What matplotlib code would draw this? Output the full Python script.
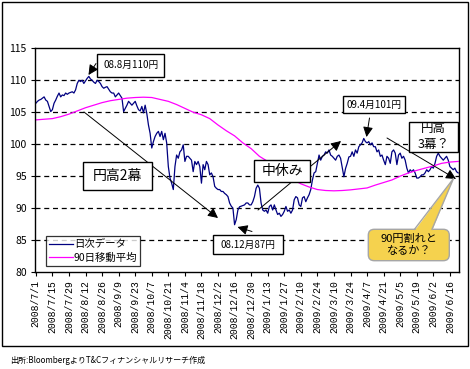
import matplotlib
matplotlib.use('Agg')
import matplotlib.pyplot as plt
from matplotlib.patches import Rectangle, FancyBboxPatch, Polygon, FancyArrowPatch
from matplotlib.transforms import Affine2D
import numpy as np
import pandas as pd

plt.rcParams['font.family'] = ['Noto Sans CJK JP', 'DejaVu Sans']

# USD/JPY daily close (business days from 2008/7/1)
daily = [
    106.4, 106.7, 106.9, 107.0, 107.2, 107.4, 106.9, 106.7, 105.9, 105.1,
    105.4, 106.4, 106.9, 107.5, 108.0, 107.4, 107.7, 107.6, 108.0, 107.8,
    108.0, 108.1, 108.2, 108.0, 108.5, 109.5, 110.0, 109.8, 110.0, 109.5,
    109.9, 110.3, 110.6, 110.2, 110.0, 109.7, 109.5, 110.0, 109.8, 109.5,
    109.0, 108.75, 108.9, 109.0, 108.6, 108.2, 108.0, 108.0, 107.4, 107.7,
    108.0, 107.6, 107.2, 105.1, 105.6, 106.1, 106.7, 106.4, 106.1, 106.4,
    106.7, 106.0, 105.4, 105.2, 105.9, 104.9, 106.1, 104.8, 103.0, 101.7,
    99.4, 100.4, 101.2, 101.7, 102.0, 101.2, 102.0, 100.7, 101.7, 100.2,
    96.5, 94.7, 93.9, 92.9, 96.5, 98.3, 97.8, 98.8, 99.1, 99.9,
    97.3, 98.1, 98.1, 97.8, 97.5, 95.7, 97.3, 96.8, 97.3, 96.5,
    93.9, 96.8, 96.0, 97.3, 96.8, 95.2, 95.5, 94.9, 93.4, 93.1,
    92.9, 92.9, 92.6, 92.6, 92.3, 92.1, 91.8, 90.8, 90.3, 90.0,
    87.4, 88.2, 89.7, 90.2, 90.3, 90.4, 90.5, 90.8, 90.8, 90.5,
    90.5, 91.0, 91.8, 93.1, 93.6, 93.1, 90.8, 89.7, 89.5, 89.7,
    89.2, 90.25, 90.5, 89.7, 90.5, 89.7, 89.0, 89.2, 88.7, 89.0,
    89.5, 90.25, 89.5, 89.7, 89.2, 89.7, 91.3, 91.8, 91.6, 90.5,
    90.25, 91.6, 91.8, 91.0, 91.6, 92.1, 92.9, 94.4, 95.5, 95.7,
    97.0, 98.3, 97.5, 98.1, 98.3, 98.8, 98.6, 99.1, 98.3, 98.1,
    97.8, 97.5, 98.1, 98.3, 97.8, 96.3, 94.9, 96.2, 97.0, 98.0,
    98.1, 98.8, 98.1, 99.1, 98.6, 99.6, 99.9, 100.2, 100.9, 100.4,
    100.2, 100.4, 99.9, 100.2, 99.6, 99.6, 98.8, 99.1, 98.1, 98.3,
    97.5, 96.8, 98.1, 97.8, 97.0, 98.8, 99.1, 98.6, 96.8, 98.3,
    98.6, 97.8, 98.1, 97.5, 96.25, 95.5, 96.0, 95.7, 96.0, 95.5,
    94.7, 94.7, 94.9, 95.2, 95.2, 95.5, 96.0, 95.7, 96.0, 96.5,
    96.25, 97.0, 98.1, 98.6, 98.1, 97.8, 97.5, 97.8, 98.1, 97.5,
    96.5, 96.25, 96.0, 96.25, 95.7, 95.5,
]

# 90-day moving average, read every 5th business day
ma90 = [
    103.8, 103.9, 104.0, 104.3, 104.7, 105.2, 105.7, 106.1, 106.5, 106.8,
    107.0, 107.2, 107.3, 107.35, 107.3, 107.0, 106.7, 106.2, 105.6, 105.0,
    104.6, 104.0, 103.0, 102.1, 101.3, 100.2, 99.3, 98.1, 97.3, 96.6,
    95.7, 94.5, 93.8, 93.3, 92.9, 92.75, 92.7, 92.75, 92.85, 93.0,
    93.15, 93.6, 94.0, 94.4, 95.0, 95.5, 95.9, 96.25, 96.6, 97.0,
    97.2, 97.3,
]
ma_step = 5
label_step = 10

dates = pd.bdate_range('2008-07-01', periods=len(daily))
tick_labels = [f'{d.year}/{d.month}/{d.day}' for d in dates[::label_step]]
y_ticks = [80, 85, 90, 95, 100, 105, 110, 115]

W, H = 470, 369


def add_box(fig, px, x0, y0, x1, y1, text, size):
    fig.add_artist(Rectangle((x0, y0), x1 - x0, y1 - y0, transform=px,
                             facecolor='white', edgecolor='black', lw=1, zorder=1))
    fig.text((x0 + x1) / 2, (y0 + y1) / 2, text, transform=px, fontsize=size,
             ha='center', va='center', linespacing=1.3, zorder=3)


def add_arrow(fig, px, a, b):
    fig.add_artist(FancyArrowPatch(a, b, transform=px, arrowstyle='-|>,head_length=0.6,head_width=0.3',
                                   mutation_scale=10, lw=0.7, color='black',
                                   shrinkA=0, shrinkB=0, zorder=0.5))


def main():
    fig = plt.figure(figsize=(W / 100, H / 100), dpi=100)
    px = Affine2D().scale(1 / W, -1 / H).translate(0, 1) + fig.transFigure

    ax = fig.add_axes([35 / W, 1 - 272 / H, 424 / W, (272 - 48.3) / H])
    x = np.arange(len(daily))
    ax.plot(x, daily, color='#000080', lw=0.9, label='日次データ')
    ax.plot(x[::ma_step], ma90, color='#FF00FF', lw=0.9, label='90日移動平均')

    ax.set_xlim(-0.5, len(daily) - 0.5)
    ax.set_ylim(80, 115)
    ax.set_yticks(y_ticks)
    ax.set_xticks(x[::label_step])
    ax.set_xticklabels(tick_labels, rotation=90, fontsize=7, family='Liberation Mono')
    ax.tick_params(axis='y', labelsize=7.5, length=3, pad=3)
    ax.tick_params(axis='x', length=3, pad=3)
    for v in y_ticks[1:-1]:
        ax.axhline(v, color='black', lw=0.9, ls=(0, (4, 3)), zorder=0.5)
    for s in ax.spines.values():
        s.set_color('black')
        s.set_linewidth(1)

    leg = ax.legend(loc='lower left', bbox_to_anchor=((45.7 - 35) / 424, (272 - 265.7) / 223.7),
                    fontsize=7.5, frameon=True, fancybox=False, handlelength=2.3,
                    borderpad=0.3, labelspacing=0.3, handletextpad=0.1, borderaxespad=0)
    leg.get_frame().set_edgecolor('black')
    leg.get_frame().set_linewidth(0.9)

    # outer chart border and source
    fig.add_artist(Rectangle((1.5, 1.5), 466, 344, transform=px, fill=False,
                             edgecolor='black', lw=1, zorder=0.1))
    fig.text(10, 360, '出所:BloombergよりT&Cフィナンシャルリサーチ作成', transform=px,
             fontsize=5.8, va='center', ha='left')

    # arrows
    add_arrow(fig, px, (96, 63.5), (88.5, 75))
    add_arrow(fig, px, (84, 112), (218, 218))
    add_arrow(fig, px, (252, 231.5), (237.5, 227))
    add_arrow(fig, px, (258, 210), (341, 141))
    add_arrow(fig, px, (369.5, 118), (366.5, 137))
    add_arrow(fig, px, (387, 138), (456, 179))

    # text boxes
    add_box(fig, px, 97.3, 54, 164.3, 76.7, '08.8月110円', 7)
    add_box(fig, px, 82.7, 162.3, 152.3, 190, '円高2幕', 10)
    add_box(fig, px, 212.7, 235, 282.7, 254.3, '08.12月87円', 7)
    add_box(fig, px, 254, 160, 310, 181.7, '中休み', 10)
    add_box(fig, px, 342.7, 95.7, 405, 113.3, '09.4月101円', 7)
    add_box(fig, px, 408.7, 121.7, 457.7, 151.7, '円高\n3幕？', 9)

    # yellow callout
    fill = '#F5D24E'
    edge = '#A6A6A6'
    fig.add_artist(FancyBboxPatch((368.3, 229.3), 81, 31.4, transform=px,
                                  boxstyle='round,pad=0,rounding_size=6',
                                  facecolor=fill, edgecolor=edge, lw=1, zorder=1))
    fig.add_artist(Polygon([(414.5, 231), (453.5, 178.5), (432, 231)], closed=True,
                           transform=px, facecolor=fill, edgecolor='none', zorder=1.1))
    fig.add_artist(plt.Line2D([414.5, 453.5, 432], [229.3, 178.5, 229.3], transform=px,
                              color=edge, lw=1, zorder=1.2))
    fig.text(409, 245, '90円割れと\nなるか？', transform=px, fontsize=8,
             ha='center', va='center', linespacing=1.25, zorder=3)

    fig.savefig('out.png', dpi=100)
    plt.close()


if __name__ == '__main__':
    main()
